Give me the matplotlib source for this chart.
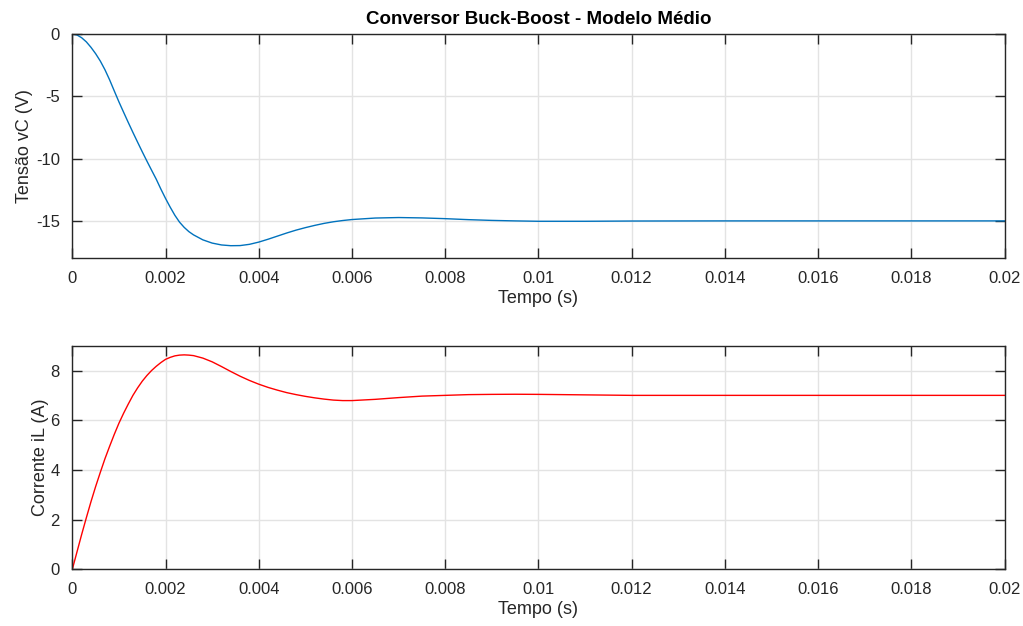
import numpy as np
import matplotlib
matplotlib.use('Agg')
import matplotlib.pyplot as plt

# tempo (s) e valores
t_vc = [0, 0.0001, 0.0002, 0.0003, 0.0004, 0.0005, 0.0006, 0.0007, 0.0008, 0.0009,
        0.001, 0.0011, 0.0012, 0.0013, 0.0014, 0.0015, 0.0016, 0.0017, 0.0018, 0.0019,
        0.002, 0.0021, 0.0022, 0.0023, 0.0024, 0.0025, 0.0026, 0.0028, 0.003, 0.0032,
        0.0034, 0.0036, 0.0038, 0.004, 0.0042, 0.0044, 0.0046, 0.0048, 0.005, 0.0052,
        0.0054, 0.0056, 0.0058, 0.006, 0.0065, 0.007, 0.0075, 0.008, 0.0085, 0.009,
        0.0095, 0.01, 0.011, 0.012, 0.014, 0.016, 0.018, 0.02]
vc = [0, -0.08, -0.3, -0.63, -1.07, -1.58, -2.17, -2.87, -3.68, -4.57,
      -5.45, -6.28, -7.1, -7.9, -8.68, -9.45, -10.2, -10.93, -11.65, -12.45,
      -13.2, -13.9, -14.55, -15.1, -15.52, -15.86, -16.12, -16.52, -16.78, -16.93,
      -16.99, -16.98, -16.88, -16.7, -16.47, -16.22, -15.97, -15.74, -15.54, -15.36,
      -15.2, -15.07, -14.97, -14.89, -14.77, -14.73, -14.76, -14.82, -14.9, -14.96,
      -15.0, -15.03, -15.03, -15.01, -15.0, -15.0, -15.0, -15.0]

t_il = [0, 0.0001, 0.0002, 0.0003, 0.0004, 0.0005, 0.0006, 0.0007, 0.0008, 0.0009,
        0.001, 0.0011, 0.0012, 0.0013, 0.0014, 0.0015, 0.0016, 0.0017, 0.0018, 0.0019,
        0.002, 0.0021, 0.0022, 0.0023, 0.0024, 0.0025, 0.0026, 0.0028, 0.003, 0.0032,
        0.0034, 0.0036, 0.0038, 0.004, 0.0042, 0.0044, 0.0046, 0.0048, 0.005, 0.0052,
        0.0054, 0.0056, 0.0058, 0.006, 0.0065, 0.007, 0.0075, 0.008, 0.0085, 0.009,
        0.0095, 0.01, 0.011, 0.012, 0.014, 0.016, 0.018, 0.02]
il = [0, 0.7, 1.4, 2.07, 2.72, 3.33, 3.9, 4.45, 4.95, 5.43,
      5.88, 6.28, 6.65, 7.0, 7.3, 7.57, 7.8, 8.0, 8.17, 8.32,
      8.45, 8.53, 8.59, 8.62, 8.63, 8.62, 8.6, 8.5, 8.35, 8.16,
      7.96, 7.77, 7.6, 7.45, 7.32, 7.21, 7.11, 7.03, 6.96, 6.9,
      6.85, 6.81, 6.79, 6.79, 6.84, 6.91, 6.97, 7.0, 7.03, 7.04,
      7.045, 7.04, 7.02, 7.0, 7.0, 7.0, 7.0, 7.0]

xticks = [0, 0.002, 0.004, 0.006, 0.008, 0.01, 0.012, 0.014, 0.016, 0.018, 0.02]
xticklabels = ['0', '0.002', '0.004', '0.006', '0.008', '0.01', '0.012', '0.014', '0.016', '0.018', '0.02']

plt.rcParams['font.family'] = ['Liberation Sans', 'DejaVu Sans']
plt.rcParams['axes.unicode_minus'] = False
ink = '#262626'

fig = plt.figure(figsize=(10.23, 6.26), dpi=100)
ax1 = fig.add_axes([0.0707, 0.5874, 0.9113, 0.3583])
ax2 = fig.add_axes([0.0707, 0.0906, 0.9113, 0.3572])


def estilo(ax):
    ax.set_xlim(0, 0.02)
    ax.set_xticks(xticks)
    ax.set_xticklabels(xticklabels)
    ax.grid(True, color='#e3e3e3', linewidth=1.0)
    ax.set_axisbelow(True)
    ax.tick_params(direction='in', length=7, width=1.0, colors=ink, labelsize=12,
                   top=True, right=True, pad=9)
    for s in ax.spines.values():
        s.set_color(ink)
        s.set_linewidth(1.0)
    ax.set_xlabel('Tempo (s)', fontsize=13, color=ink, labelpad=3)


ax1.plot(t_vc, vc, color='#0072BD', linewidth=1.0)
estilo(ax1)
ax1.set_ylim(-18, 0)
ax1.set_yticks([-15, -10, -5, 0])
ax1.set_ylabel('Tensão vC (V)', fontsize=13, color=ink, labelpad=2)
ax1.set_title('Conversor Buck-Boost - Modelo Médio', fontsize=13.5, fontweight='bold', pad=7)

ax2.plot(t_il, il, color='red', linewidth=1.0)
estilo(ax2)
ax2.set_ylim(0, 9)
ax2.set_yticks([0, 2, 4, 6, 8])
ax2.set_ylabel('Corrente iL (A)', fontsize=13, color=ink, labelpad=1)

fig.savefig('out.png', dpi=100)
